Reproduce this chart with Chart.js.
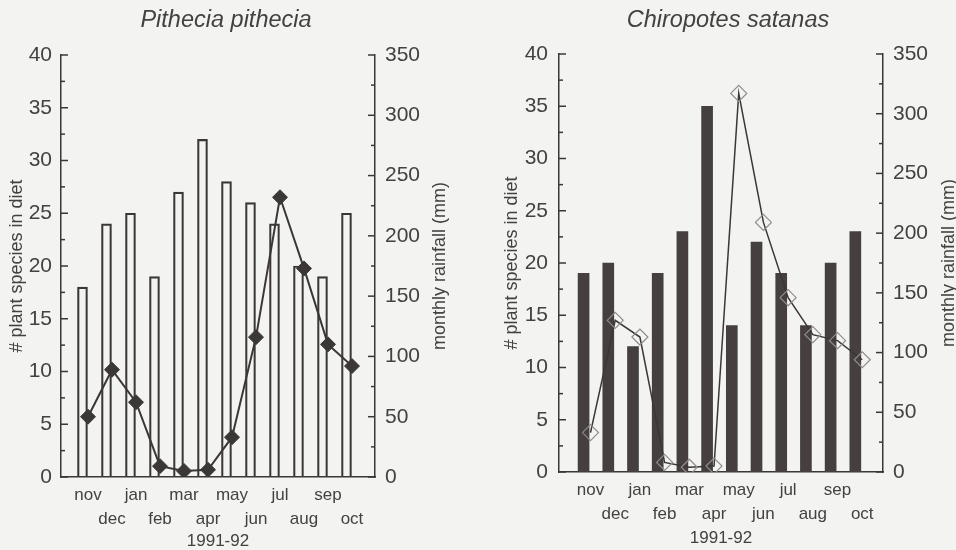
<!DOCTYPE html>
<html>
<head>
<meta charset="utf-8">
<title>Pithecia pithecia / Chiropotes satanas</title>
<script src="https://cdn.jsdelivr.net/npm/chart.js@4.4.0/dist/chart.umd.min.js"></script>
<style>
    html, body { margin: 0; padding: 0; background: #f3f3f1; }
    body { width: 956px; height: 550px; position: relative; overflow: hidden; }
    canvas { position: absolute; top: 0; }
    #pithecia-chart { left: 0; }
    #chiropotes-chart { left: 500px; }
</style>
</head>
<body>
<canvas id="pithecia-chart" width="452" height="550"></canvas>
<canvas id="chiropotes-chart" width="456" height="550"></canvas>
<script>
// months of the study year, nov 1991 - oct 1992
const months = ['nov', 'dec', 'jan', 'feb', 'mar', 'apr', 'may', 'jun', 'jul', 'aug', 'sep', 'oct'];

// Pithecia pithecia: bars on the left axis, diamonds on the right axis
const pitheciaSpecies = [18, 24, 25, 19, 27, 32, 28, 26, 24, 20, 19, 25];
const pitheciaRain = [50, 89, 62, 9, 5, 6, 33, 116, 232, 173, 110, 92];

// Chiropotes satanas
const chiropotesSpecies = [19, 20, 12, 19, 23, 35, 14, 22, 19, 14, 20, 23];
const chiropotesRain = [33, 127, 113, 8, 4, 5, 317, 209, 146, 115, 110, 94];

const INK = '#3b3737';
const TEXT = '#444141';
const FONT = 'Liberation Sans, Arial, Helvetica, sans-serif';
const TITLE_SIZE = 23.5;

Chart.defaults.font.family = FONT;
Chart.defaults.color = TEXT;

// short tick marks drawn inside the plot, plus the right axis title (reads bottom to top)
const axisExtras = {
    id: 'axisExtras',
    afterDraw(chart, args, opts) {
        const { ctx, chartArea } = chart;
        ctx.save();
        ctx.strokeStyle = INK;
        ctx.lineWidth = 1.5;
        [['y', chartArea.left, 1, 5], ['y1', chartArea.right, -1, 50]].forEach(([id, x0, dir, major]) => {
            const scale = chart.scales[id];
            scale.ticks.forEach(t => {
                const y = scale.getPixelForValue(t.value);
                const len = t.value % major === 0 ? 7 : 4;
                ctx.beginPath();
                ctx.moveTo(x0, y);
                ctx.lineTo(x0 + dir * len, y);
                ctx.stroke();
            });
        });

        ctx.fillStyle = TEXT;
        ctx.font = '18px ' + FONT;
        ctx.textAlign = 'center';
        ctx.textBaseline = 'middle';
        ctx.translate(opts.titleX, (chartArea.top + chartArea.bottom) / 2);
        ctx.rotate(-Math.PI / 2);
        ctx.fillText('monthly rainfall (mm)', 0, 0);
        ctx.restore();
    }
};

function makeChart(canvasId, cfg) {
    const ctx = document.getElementById(canvasId);
    const titleLine = TITLE_SIZE * 1.2;
    return new Chart(ctx, {
        type: 'bar',
        data: {
            datasets: [{
                type: 'line',
                order: 0,
                yAxisID: 'y1',
                data: cfg.rain.map((v, i) => ({ x: i, y: v })),
                borderColor: INK,
                borderWidth: cfg.lineWidth,
                tension: 0,
                pointStyle: 'rectRot',
                pointRadius: cfg.pointRadius,
                pointBorderWidth: cfg.pointBorderWidth,
                pointBackgroundColor: cfg.pointFill,
                pointBorderColor: cfg.pointBorder
            }, {
                type: 'bar',
                order: 1,
                yAxisID: 'y',
                data: cfg.species.map((v, i) => ({ x: i + cfg.barShift, y: v })),
                backgroundColor: cfg.barFill,
                borderColor: INK,
                borderWidth: cfg.barBorder,
                barThickness: cfg.barThickness
            }]
        },
        options: {
            responsive: false,
            animation: false,
            events: [],
            layout: { padding: 0 },
            plugins: {
                legend: { display: false },
                tooltip: { enabled: false },
                title: {
                    display: true,
                    text: cfg.title,
                    color: TEXT,
                    font: { size: TITLE_SIZE, style: 'italic', weight: 'normal', lineHeight: 1.2 },
                    padding: { top: 6, bottom: cfg.top - 6 - titleLine }
                },
                axisExtras: { titleX: cfg.rightTitleX }
            },
            scales: {
                x: {
                    type: 'linear',
                    offset: false,
                    min: cfg.xMin,
                    max: cfg.xMax,
                    grid: { display: false, drawTicks: false, offset: false },
                    border: { display: true, color: INK, width: 1.5 },
                    afterBuildTicks: axis => { axis.ticks = months.map((m, i) => ({ value: i })); },
                    afterFit: axis => { axis.height = 550 - cfg.bottom; },
                    ticks: {
                        autoSkip: false,
                        maxRotation: 0,
                        minRotation: 0,
                        padding: 7,
                        color: TEXT,
                        font: { size: 17, lineHeight: 1.38 },
                        callback: v => v % 2 === 0 ? [months[v], ''] : ['', months[v]]
                    },
                    title: {
                        display: true,
                        text: '1991-92',
                        color: TEXT,
                        font: { size: 17, lineHeight: 1 },
                        padding: { top: 0, bottom: cfg.xTitlePad }
                    }
                },
                y: {
                    position: 'left',
                    min: 0,
                    max: 40,
                    grid: { display: false, drawTicks: false },
                    border: { display: true, color: INK, width: 1.5 },
                    afterFit: axis => { axis.width = cfg.left; },
                    ticks: {
                        stepSize: 2.5,
                        autoSkip: false,
                        padding: cfg.leftTickPad,
                        color: TEXT,
                        font: { size: 21 },
                        callback: v => v % 5 === 0 ? v : ''
                    },
                    title: {
                        display: true,
                        text: '# plant species in diet',
                        color: TEXT,
                        font: { size: 18, lineHeight: 1.2 },
                        padding: { top: cfg.leftTitlePad, bottom: 0 }
                    }
                },
                y1: {
                    position: 'right',
                    min: 0,
                    max: 350,
                    grid: { display: false, drawTicks: false },
                    border: { display: true, color: INK, width: 1.5 },
                    afterFit: axis => { axis.width = cfg.width - cfg.right; },
                    ticks: {
                        stepSize: 25,
                        autoSkip: false,
                        padding: 10,
                        color: TEXT,
                        font: { size: 21 },
                        callback: v => v % 50 === 0 ? v : ''
                    }
                }
            }
        },
        plugins: [axisExtras]
    });
}

makeChart('pithecia-chart', {
    title: 'Pithecia pithecia',
    species: pitheciaSpecies,
    rain: pitheciaRain,
    width: 452, left: 61, right: 375, top: 55, bottom: 477,
    xMin: -1.125, xMax: 11.958, barShift: -0.23,
    leftTickPad: 9, leftTitlePad: 6.7, rightTitleX: 440, xTitlePad: 0,
    barFill: 'rgba(0,0,0,0)', barBorder: 1.5, barThickness: 10,
    lineWidth: 2, pointRadius: 7.5, pointBorderWidth: 1,
    pointFill: INK, pointBorder: INK
});

makeChart('chiropotes-chart', {
    title: 'Chiropotes satanas',
    species: chiropotesSpecies,
    rain: chiropotesRain,
    width: 456, left: 59, right: 383, top: 54, bottom: 472,
    xMin: -1.275, xMax: 11.84, barShift: -0.28,
    leftTickPad: 11, leftTitlePad: 1.2, rightTitleX: 449, xTitlePad: 3.5,
    barFill: '#453f3f', barBorder: 0, barThickness: 11,
    lineWidth: 1.5, pointRadius: 8, pointBorderWidth: 1.2,
    pointFill: 'rgba(0,0,0,0)', pointBorder: '#8f8c8c'
});
</script>
</body>
</html>
